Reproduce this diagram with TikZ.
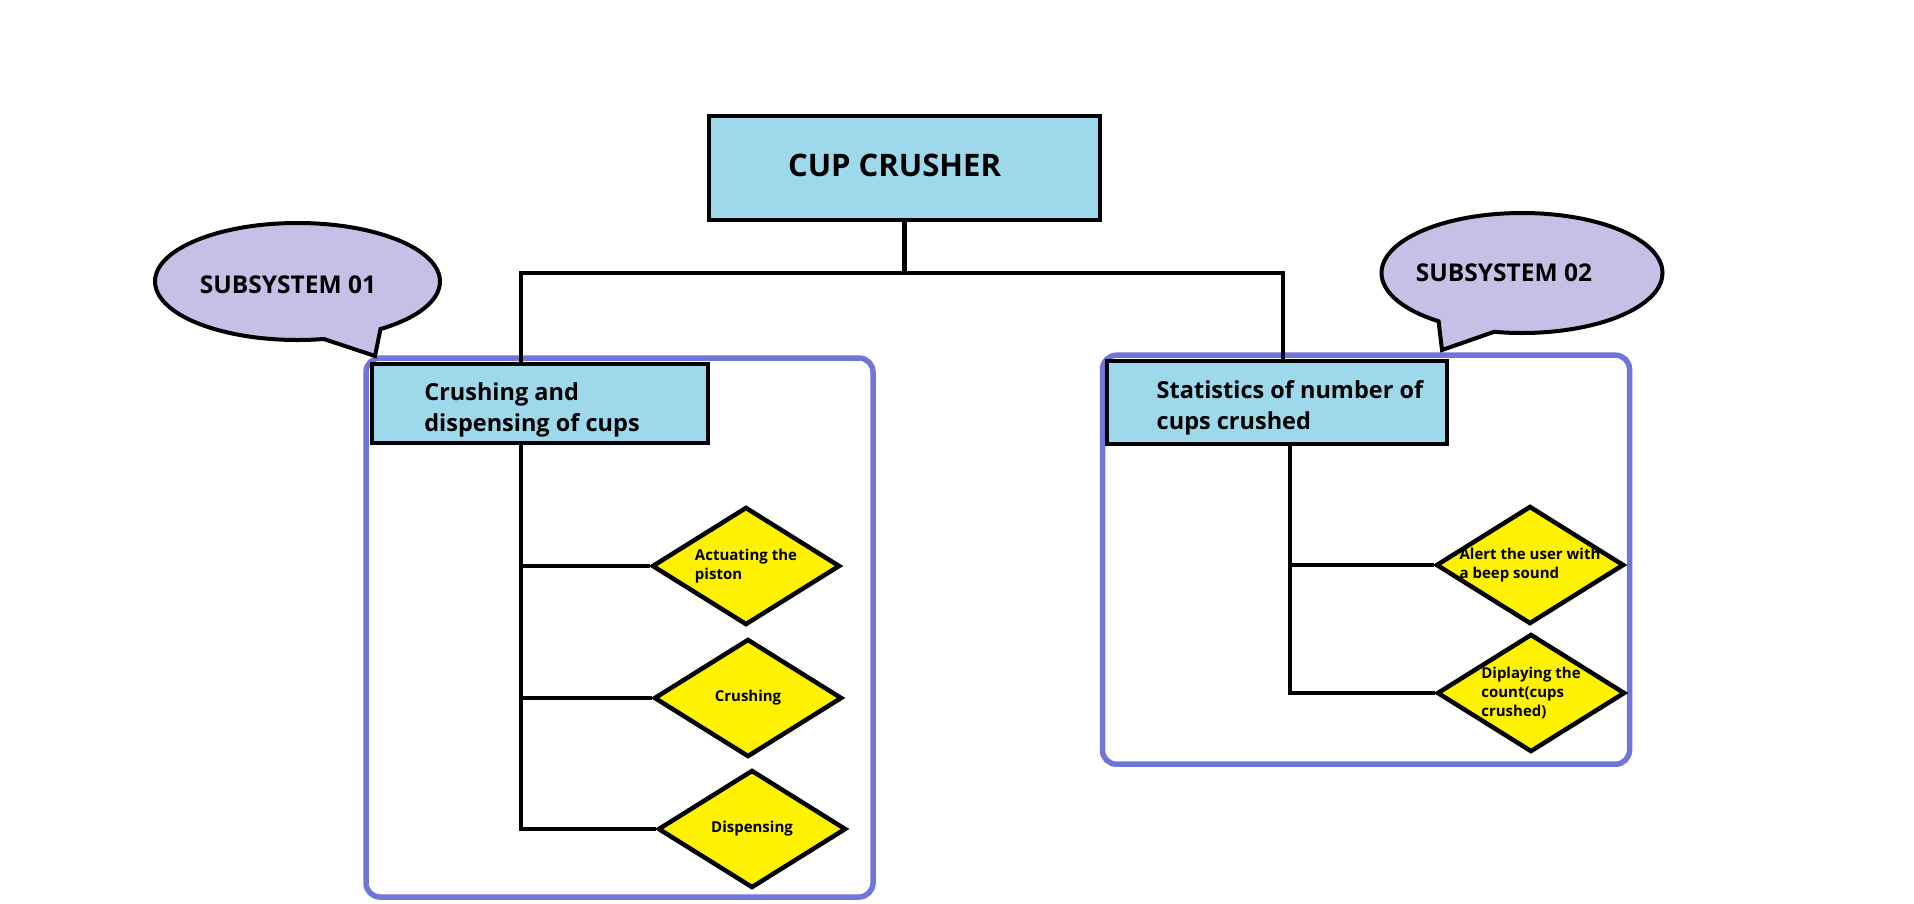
\documentclass[tikz,border=0pt]{standalone}
\usepackage{fontspec}
\setmainfont{Open Sans}
\usetikzlibrary{shapes.geometric,shapes.callouts}
\definecolor{boxcyan}{HTML}{9DD9EA}
\definecolor{choiceyellow}{HTML}{FFF200}
\definecolor{bubblelilac}{HTML}{C8BFE7}
\definecolor{frameblue}{HTML}{7076D8}

\begin{document}
\begin{tikzpicture}[
  x=1pt, y=-1pt,
  box/.style={rectangle, draw, line width=4pt, fill=boxcyan, inner sep=0pt, align=left, font=\bfseries\fontsize{23.5}{31}\selectfont},
  choice/.style={diamond, draw, line width=4.5pt, fill=choiceyellow, inner ysep=0pt, inner xsep=-8pt, shape aspect=1.6, minimum width=188pt, minimum height=118pt, align=left, font=\bfseries\fontsize{15}{19}\selectfont},
  bubble/.style={ellipse callout, draw, line width=4pt, fill=bubblelilac, inner ysep=0pt, inner xsep=-20pt, callout pointer arc=25, font=\bfseries\fontsize{24.5}{28}\selectfont},
  frame/.style={rectangle, draw=frameblue, line width=5.5pt, rounded corners=14pt, inner sep=0pt},
  link/.style={line width=4.5pt}
]
  \useasboundingbox (0,0) rectangle (1914,903);

  \node[frame, minimum width=507pt, minimum height=539pt] (frame1) at (619.5,627.5) {};
  \node[frame, minimum width=527pt, minimum height=409pt] (frame2) at (1366,559.7) {};

  \node[box, minimum width=391pt, minimum height=104pt, font=\bfseries\fontsize{31}{36}\selectfont] (root) at (904.5,168) {\raisebox{6pt}{CUP CRUSHER}\kern20pt};
  \node[box, minimum width=336pt, minimum height=79pt] (hdr1) at (540,403.5) {\rule{0pt}{31pt}Crushing and\\dispensing of cups\kern16pt};
  \node[box, minimum width=340pt, minimum height=83pt] (hdr2) at (1277,402.5) {\rule{0pt}{29pt}Statistics of number of\kern-26pt\\cups crushed};

  \node[choice] (act) at (746,566) {Actuating the\\piston};
  \node[choice] (crush) at (748,698) {Crushing};
  \node[choice] (disp) at (752,829) {Dispensing};
  \node[choice] (alert) at (1530,565) {Alert the user with\\a beep sound};
  \node[choice] (count) at (1531,693) {Diplaying the\\count(cups\\crushed)};

  \coordinate (busL) at (521,273);
  \coordinate (busR) at (1283,273);
  \coordinate (trunkL) at (521,443);
  \coordinate (trunkR) at (1290,444);

  \draw[link] (root.south) -- (root.south |- busL);
  \draw[link] (busL |- hdr1.north) -- (busL) -- (busR) -- (busR |- hdr2.north);
  \draw[link] (trunkL |- hdr1.south) -- (trunkL |- disp.west) -- (disp.west);
  \draw[link] (trunkL |- act.west) -- (act.west);
  \draw[link] (trunkL |- crush.west) -- (crush.west);
  \draw[link] (trunkR |- hdr2.south) -- (trunkR |- count.west) -- (count.west);
  \draw[link] (trunkR |- alert.west) -- (alert.west);

  \node[bubble, minimum width=285pt, minimum height=117pt, callout absolute pointer={(375,356)}] (sub1) at (297.5,281.5) {\raisebox{-3.5pt}[\height][\depth]{SUBSYSTEM 01}\kern19pt};
  \node[bubble, minimum width=281pt, minimum height=120pt, callout absolute pointer={(1442,350)}] (sub2) at (1522,273) {SUBSYSTEM 02\kern36pt};
\end{tikzpicture}
\end{document}
